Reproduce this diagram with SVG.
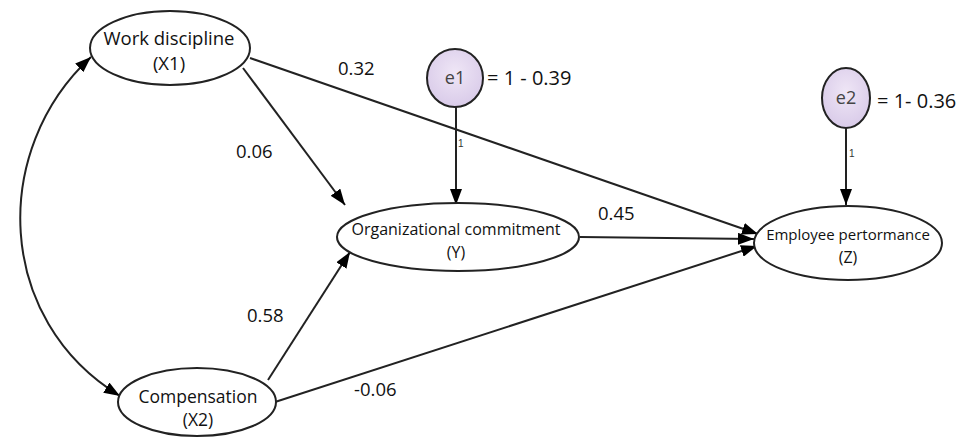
<svg xmlns="http://www.w3.org/2000/svg" width="963" height="438" viewBox="0 0 963 438">
<defs>
<marker id="ah" viewBox="0 0 16 12" refX="16" refY="6" markerWidth="16" markerHeight="12" markerUnits="userSpaceOnUse" orient="auto-start-reverse"><path d="M0,0 L16,6 L0,12 z" fill="#000"/></marker>
<radialGradient id="eg" cx="50%" cy="40%" r="60%"><stop offset="0" stop-color="#efe6f6"/><stop offset="1" stop-color="#d9cbe9"/></radialGradient>
<style>
.node{fill:#fff;stroke:#222;stroke-width:2}
.err{fill:url(#eg);stroke:#222;stroke-width:2}
.lbl{font-family:"Open Sans","Liberation Sans",sans-serif;font-size:15px;fill:#111;text-anchor:middle}
.num{font-family:"Open Sans","Liberation Sans",sans-serif;font-size:18.5px;fill:#111}
.eq{font-family:"Open Sans","Liberation Sans",sans-serif;font-size:20px;fill:#111}
.one{font-family:"Liberation Sans",sans-serif;font-size:10px;fill:#333}
.edge{stroke:#222;stroke-width:2;fill:none;marker-end:url(#ah)}
</style>
</defs>
<g id="connectors">
<path class="edge" d="M243,68 L345,205"/>
<path class="edge" d="M250,58 L758,234"/>
<path class="edge" d="M580,237 L754,239"/>
<path class="edge" d="M268,380 L350,252"/>
<path class="edge" d="M275,402 L757,246"/>
<path class="edge" d="M456,107 L456,205"/>
<path class="edge" d="M846,128 L846,205"/>
<path class="edge" style="marker-start:url(#ah)" d="M91,57 C-10,150 -5,320 120,396"/>
<text class="num" x="236" y="158">0.06</text>
<text class="num" x="338" y="75">0.32</text>
<text class="num" x="598" y="220">0.45</text>
<text class="num" x="247" y="322">0.58</text>
<text class="num" x="354" y="396">-0.06</text>
<text class="one" x="458" y="147">1</text>
<text class="one" x="849" y="157">1</text>
</g>
<g id="x1"><ellipse class="node" cx="170" cy="48" rx="80" ry="37"/><text class="lbl" style="font-size:18.5px" x="169" y="45">Work discipline</text><text class="lbl" style="font-size:18.5px" x="169" y="70">(X1)</text></g>
<g id="x2"><ellipse class="node" cx="197" cy="402" rx="79" ry="34"/><text class="lbl" style="font-size:17.5px" x="198" y="403">Compensation</text><text class="lbl" style="font-size:17.5px" x="198" y="426">(X2)</text></g>
<g id="y"><ellipse class="node" cx="458" cy="237" rx="121" ry="34"/><text class="lbl" style="font-size:16px" x="456" y="235">Organizational commitment</text><text class="lbl" style="font-size:16px" x="456" y="258">(Y)</text></g>
<g id="z"><ellipse class="node" cx="848" cy="243" rx="94" ry="37"/><text class="lbl" x="848" y="240">Employee pertormance</text><text class="lbl" style="font-size:16px" x="848" y="263">(Z)</text></g>
<g id="e1"><ellipse class="err" cx="455" cy="78" rx="28" ry="29"/><text class="lbl" style="font-size:18px;fill:#444" x="455" y="84">e1</text><text class="eq" x="487" y="85">= 1 - 0.39</text></g>
<g id="e2"><ellipse class="err" cx="846" cy="98" rx="24" ry="30"/><text class="lbl" style="font-size:18px;fill:#444" x="846" y="104">e2</text><text class="eq" x="877" y="108">= 1- 0.36</text></g>
</svg>
